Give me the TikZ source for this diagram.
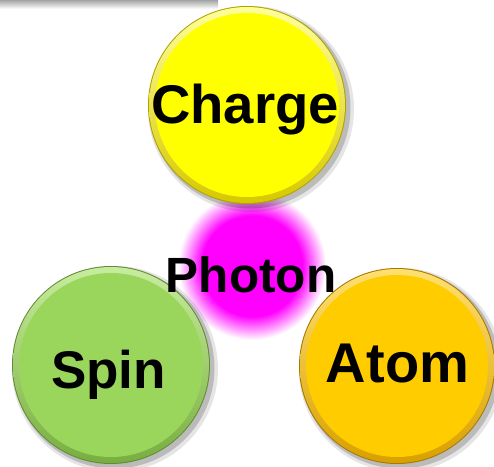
\documentclass[tikz,border=0pt]{standalone}
\usepackage{fontspec}
\setmainfont{Liberation Sans}
\pgfdeclareradialshading{glow}{\pgfpointorigin}{color(0bp)=(magenta); color(17bp)=(magenta); color(25bp)=(white); color(50bp)=(white)}
\definecolor{ylbase}{HTML}{FFFF00}
\definecolor{yldark}{HTML}{B0A200}
\definecolor{yllight}{HTML}{FFFF9A}
\definecolor{ylshade}{HTML}{D6C800}
\definecolor{grbase}{HTML}{9BD65C}
\definecolor{grdark}{HTML}{628C34}
\definecolor{grlight}{HTML}{C8EC9E}
\definecolor{grshade}{HTML}{78AE40}
\definecolor{orbase}{HTML}{FFCC00}
\definecolor{ordark}{HTML}{A87800}
\definecolor{orlight}{HTML}{FFE070}
\definecolor{orshade}{HTML}{D8A000}
\usetikzlibrary{calc}
\newcommand{\mybutton}[3]{%
  \fill[black,opacity=0.10] ($#1+(4,4)$) circle[radius=#2pt+4pt];
  \fill[black,opacity=0.18] ($#1+(3,3)$) circle[radius=#2pt+1.5pt];
  \fill[#3dark] #1 circle[radius=#2pt];
  \shade[top color=#3light, bottom color=#3shade] #1 circle[radius=#2pt-1pt];
  \fill[#3base] #1 circle[radius=#2pt-7pt];
}
\tikzset{
  btntext/.style={font=\fontsize{#1}{#1}\selectfont\bfseries, text=black, inner sep=0pt, anchor=base},
}
\begin{document}
\begin{tikzpicture}[x=1pt,y=-1pt]
\useasboundingbox (0,0) rectangle (494,466);
\fill[white] (0,0) rectangle (494,466);
% top bar
\shade[top color=gray!80, bottom color=white] (0,-1) rectangle (218,9);
% glow
\shade[shading=glow] (252,266) circle[radius=74pt];
% buttons
\mybutton{(247,105)}{99}{yl}
\mybutton{(111,365)}{99}{gr}
\mybutton{(397,366)}{98}{or}
\node[btntext=54.5] (charge) at (245,123) {Charge};
\node[btntext=53] (spin) at (108.5,388) {Spin};
\node[btntext=56] (atom) at (397.5,382) {Atom};
\node[btntext=49.5] (photon) at (251,292) {Photon};
\end{tikzpicture}
\end{document}
